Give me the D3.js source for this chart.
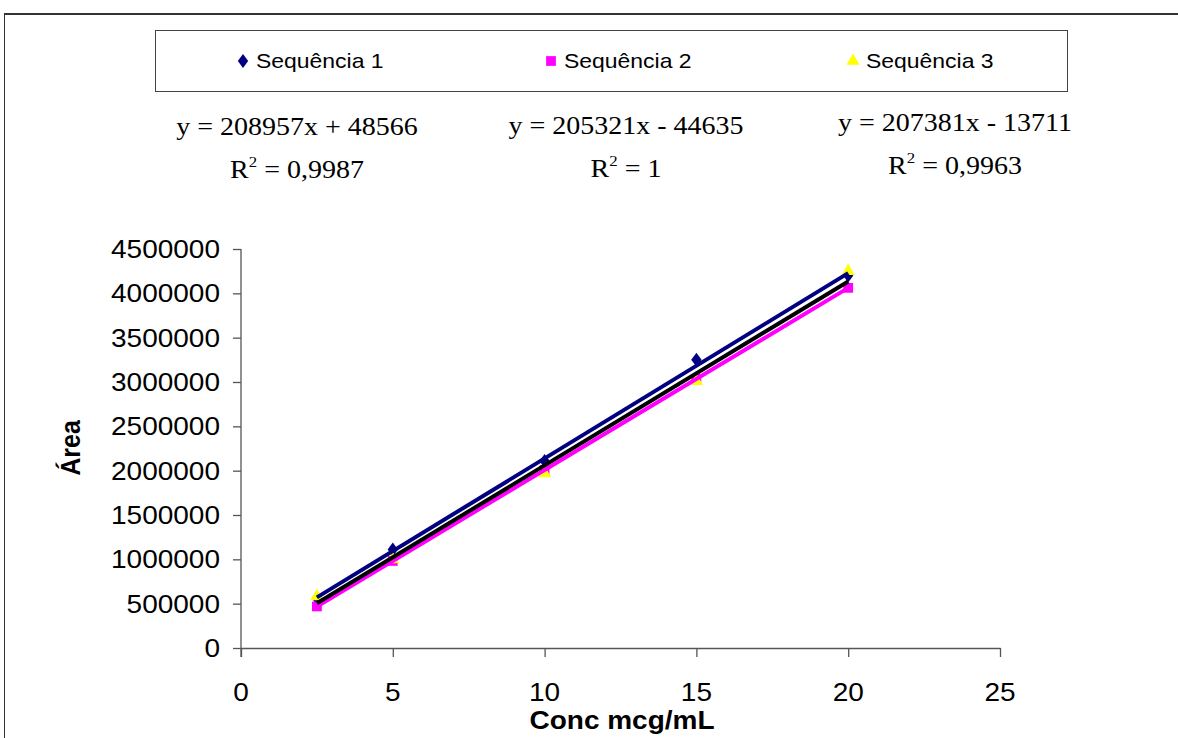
<!DOCTYPE html>
<html>
<head>
<meta charset="utf-8">
<script src="https://cdn.jsdelivr.net/npm/d3@7"></script>
<style>
  html, body { margin: 0; padding: 0; background: #fff; }
  svg { display: block; }
</style>
</head>
<body>
<svg id="chart" width="1178" height="738"></svg>
<script>
// Calibration data: concentration (mcg/mL) vs. peak area
const concentrations = [2.5, 5, 10, 15, 20];
const seq1Area = [560000, 1110000, 2110000, 3250000, 4200000];
const seq2Area = [468700, 982000, 2008600, 3035200, 4061800];
const seq3Area = [580000, 1000000, 1970000, 3010000, 4250000];

const seriesNames = ["Sequência 1", "Sequência 2", "Sequência 3"];
// Linear fits y = slope * x + intercept
const fitSlopes = [208957, 205321, 207381];
const fitIntercepts = [48566, -44635, -13711];
const fitEquations = ["y = 208957x + 48566", "y = 205321x - 44635", "y = 207381x - 13711"];
const fitR2 = ["0,9987", "1", "0,9963"];

const xTicks = [0, 5, 10, 15, 20, 25];
const yTicks = [0, 500000, 1000000, 1500000, 2000000, 2500000, 3000000, 3500000, 4000000, 4500000];

const svg = d3.select("#chart");
const SX = 1.12; // horizontal glyph stretch

const sans = "'Liberation Sans', Arial, sans-serif";
const serif = "'Liberation Serif', 'Times New Roman', serif";

function label(g, x, y, txt, opts = {}) {
  const t = g.append("text")
    .attr("transform", `translate(${x},${y}) scale(${SX},1)` + (opts.rotate ? ` rotate(${opts.rotate})` : ""))
    .attr("text-anchor", opts.anchor || "middle")
    .attr("font-family", opts.family || sans)
    .attr("font-size", opts.size || 20)
    .attr("font-weight", opts.weight || "normal")
    .attr("fill", "#000");
  if (txt !== null) t.text(txt);
  return t;
}

// Outer frame
svg.append("line").attr("x1", 4).attr("x2", 1178).attr("y1", 14).attr("y2", 14)
  .attr("stroke", "#333").attr("stroke-width", 2);
svg.append("line").attr("x1", 4.5).attr("x2", 4.5).attr("y1", 13).attr("y2", 738)
  .attr("stroke", "#333").attr("stroke-width", 1);

// Plot geometry
const x = d3.scaleLinear().domain([0, 25]).range([241, 1000]);
const y = d3.scaleLinear().domain([0, 4500000]).range([648, 249]);

// Axes
const axisColor = "#555";
const gx = svg.append("g").attr("transform", `translate(0,${y(0)})`)
  .call(d3.axisBottom(x).tickValues(xTicks).tickSize(9).tickSizeOuter(0).tickFormat(() => ""));
const gy = svg.append("g").attr("transform", `translate(${x(0)},0)`)
  .call(d3.axisLeft(y).tickValues(yTicks).tickSize(8).tickSizeOuter(0).tickFormat(() => ""));
[gx, gy].forEach(g => {
  g.selectAll("path").attr("stroke", axisColor).attr("stroke-width", 1.3);
  g.selectAll("line").attr("stroke", axisColor).attr("stroke-width", 1.3);
});
gy.select(".domain").attr("d", `M0,${y(4500000)}V${y(0) + 9}`);

const labels = svg.append("g");
xTicks.forEach(v => label(labels, x(v), 701, String(v), { size: 25 }));
yTicks.forEach(v => label(labels, 220, y(v) + 9, String(v), { size: 25, anchor: "end" }));

label(labels, 622, 729, "Conc mcg/mL", { size: 25, weight: "bold" });
label(labels, 80, 448, "Área", { size: 25, weight: "bold", rotate: -90 });

// Markers
const colors = ["#000080", "#FF00FF", "#FFFF00"];
const seriesData = [seq1Area, seq2Area, seq3Area];
const symbols = [
  d3.symbol().type(d3.symbolDiamond2 || d3.symbolSquare).size(95),
  d3.symbol().type(d3.symbolSquare).size(95),
  d3.symbol().type(d3.symbolTriangle).size(75)
];

const markers = svg.append("g");
seriesData.forEach((vals, i) => {
  markers.selectAll(null).data(concentrations.map((c, j) => [c, vals[j]])).enter()
    .append("path")
    .attr("d", symbols[i])
    .attr("transform", d => `translate(${x(d[0])},${y(d[1])})` + (i === 0 ? " scale(0.85,1.15)" : ""))
    .attr("fill", colors[i]);
});

// Trend lines
const lineColors = ["#000080", "#FF00FF", "#000000"];
const xMin = d3.min(concentrations), xMax = d3.max(concentrations);
const trend = svg.append("g");
[0, 1, 2].forEach(i => {
  trend.append("line")
    .attr("x1", x(xMin)).attr("y1", y(fitSlopes[i] * xMin + fitIntercepts[i]))
    .attr("x2", x(xMax)).attr("y2", y(fitSlopes[i] * xMax + fitIntercepts[i]))
    .attr("stroke", lineColors[i]).attr("stroke-width", 4);
});

// Fit equations
const eqX = [297, 626, 955];
const eqY = [135, 134, 131];
const r2Y = [178, 177, 174];
fitEquations.forEach((eq, i) => {
  label(labels, eqX[i], eqY[i], eq, { family: serif, size: 25 });
  const t = label(labels, eqX[i], r2Y[i], null, { family: serif, size: 25 });
  t.append("tspan").text("R");
  t.append("tspan").attr("font-size", 15).attr("dy", -11).text("2");
  t.append("tspan").attr("dy", 11).text(" = " + fitR2[i]);
});

// Legend
const legend = svg.append("g");
legend.append("rect").attr("x", 155.5).attr("y", 30.5).attr("width", 912).attr("height", 61)
  .attr("fill", "#fff").attr("stroke", "#444").attr("stroke-width", 1);
const legX = [243, 551, 853];
seriesNames.forEach((name, i) => {
  legend.append("path").attr("d", symbols[i])
    .attr("transform", `translate(${legX[i]},61)` + (i === 0 ? " scale(0.85,1.15)" : ""))
    .attr("fill", colors[i]);
  label(legend, legX[i] + 13, 68, name, { size: 20.5, anchor: "start" });
});
</script>
</body>
</html>
